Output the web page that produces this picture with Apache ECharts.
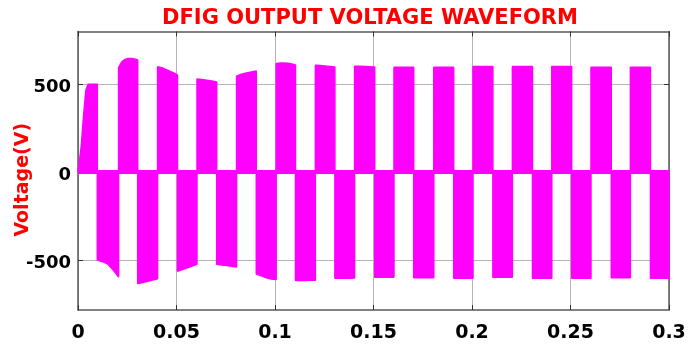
<!DOCTYPE html>
<html>
<head>
<meta charset="utf-8">
<script src="https://cdn.jsdelivr.net/npm/echarts@6/dist/echarts.min.js"></script>
<style>
html,body{margin:0;padding:0;background:#fff;}
#chart{width:693px;height:349px;}
</style>
</head>
<body>
<div id="chart"></div>
<script>
// ---- data ----
const titleText = 'DFIG OUTPUT VOLTAGE WAVEFORM';
const yName = 'Voltage(V)';
const xTicks = [0, 0.05, 0.1, 0.15, 0.2, 0.25, 0.3];
const yTicks = [-500, 0, 500];
// switching instants (s) between positive and negative half-cycles
const edges = [0.0005, 0.0098, 0.0206, 0.0303, 0.0404, 0.0505, 0.0604, 0.0704, 0.0805, 0.0905,
  0.1006, 0.1104, 0.1205, 0.1304, 0.1404, 0.1506, 0.1604, 0.1704, 0.1806, 0.1907,
  0.2005, 0.2106, 0.2205, 0.2307, 0.2405, 0.2506, 0.2604, 0.2707, 0.2804, 0.2906, 0.3];
// envelope of each half-cycle (V), samples evenly spread from its start to its end
const envelopes = [
  [0, 148, 320, 465, 500, 500, 500, 500, 500],
  [-500, -510, -524, -558, -597],
  [595, 627, 641, 646, 646, 643, 638],
  [-635, -628, -621, -614, -607],
  [600, 592, 580, 567, 553],
  [-564, -555, -545, -535, -525],
  [530, 527, 523, 518, 512],
  [-525, -529, -532, -536, -540],
  [545, 557, 564, 570, 575],
  [-580, -591, -601, -608, -612],
  [618, 621, 621, 617, 610],
  [-617, -617, -617, -616, -615],
  [608, 606, 604, 601, 598],
  [-605, -605, -604, -604, -603],
  [602, 602, 601, 600, 598],
  [-598, -598, -598, -598, -598],
  [597, 597, 597, 597, 597],
  [-601, -601, -601, -601, -601],
  [597, 597, 597, 597, 597],
  [-604, -604, -604, -604, -604],
  [601, 601, 601, 601, 601],
  [-598, -598, -598, -598, -598],
  [601, 601, 601, 601, 601],
  [-604, -604, -604, -604, -604],
  [601, 601, 601, 601, 601],
  [-604, -604, -604, -604, -604],
  [597, 597, 597, 597, 597],
  [-602, -602, -602, -602, -602],
  [597, 597, 597, 597, 597],
  [-604, -604, -604, -604, -604]
];
const zeroBand = [[0, 0], [0.3, 0]];

// ---- build the waveform polyline from the arrays ----
const wave = [[0, 0]];
for (let i = 0; i < envelopes.length; i++) {
  const t0 = edges[i], t1 = edges[i + 1], env = envelopes[i];
  wave.push([t0, 0]);
  for (let k = 0; k < env.length; k++) {
    wave.push([t0 + (t1 - t0) * k / (env.length - 1), env[k]]);
  }
  wave.push([t1, 0]);
}

const FONT = 'DejaVu Sans';
const frameLine = {show: true, onZero: false, lineStyle: {color: '#585858', width: 1.5}};
const innerTick = {show: true, inside: true, length: 5, lineStyle: {color: '#333'}};
const chart = echarts.init(document.getElementById('chart'), null, {renderer: 'canvas'});
chart.setOption({
  animation: false,
  backgroundColor: '#ffffff',
  title: {
    text: titleText,
    left: 365,
    textAlign: 'center',
    top: 3,
    textStyle: {color: '#ff0000', fontFamily: FONT, fontWeight: 'bold', fontSize: 21}
  },
  grid: {left: 78, right: 24, top: 31.5, bottom: 39, show: false, containLabel: false, outerBoundsMode: 'none'},
  xAxis: [{
    type: 'value', min: 0, max: 0.3, interval: 0.05,
    axisLine: frameLine,
    axisTick: innerTick,
    axisLabel: {color: '#000', fontFamily: FONT, fontWeight: 'bold', fontSize: 19, margin: 14,
      formatter: v => String(+v.toFixed(2))},
    splitLine: {show: true, lineStyle: {color: '#b4b4b4', width: 1}}
  }, {
    type: 'value', min: 0, max: 0.3, interval: 0.05, position: 'top',
    axisLine: frameLine,
    axisTick: innerTick,
    axisLabel: {show: false}, splitLine: {show: false}
  }],
  yAxis: [{
    type: 'value', min: -785, max: 800,
    name: yName, nameLocation: 'middle', nameGap: 45, nameMoveOverlap: false,
    nameTextStyle: {color: '#ff0000', fontFamily: FONT, fontWeight: 'bold', fontSize: 19, padding: [0, 18, 0, 0]},
    axisLine: frameLine,
    axisTick: Object.assign({customValues: yTicks}, innerTick),
    axisLabel: {color: '#000', fontFamily: FONT, fontWeight: 'bold', fontSize: 18, margin: 7,
      customValues: yTicks, verticalAlign: 'top', lineHeight: 7},
    splitLine: {show: true, lineStyle: {color: '#b4b4b4', width: 1}}
  }, {
    type: 'value', min: -785, max: 800, position: 'right',
    axisLine: frameLine,
    axisTick: Object.assign({customValues: yTicks}, innerTick),
    axisLabel: {show: false, customValues: yTicks}, splitLine: {show: false}
  }],
  series: [{
    type: 'line', data: wave, symbol: 'none', silent: true,
    lineStyle: {color: '#ff00ff', width: 1.5},
    areaStyle: {color: '#ff00ff', opacity: 1, origin: 0},
    z: 3
  }, {
    type: 'line', data: zeroBand, symbol: 'none', silent: true,
    lineStyle: {color: '#ff00ff', width: 4}, z: 3
  }]
});
</script>
</body>
</html>
